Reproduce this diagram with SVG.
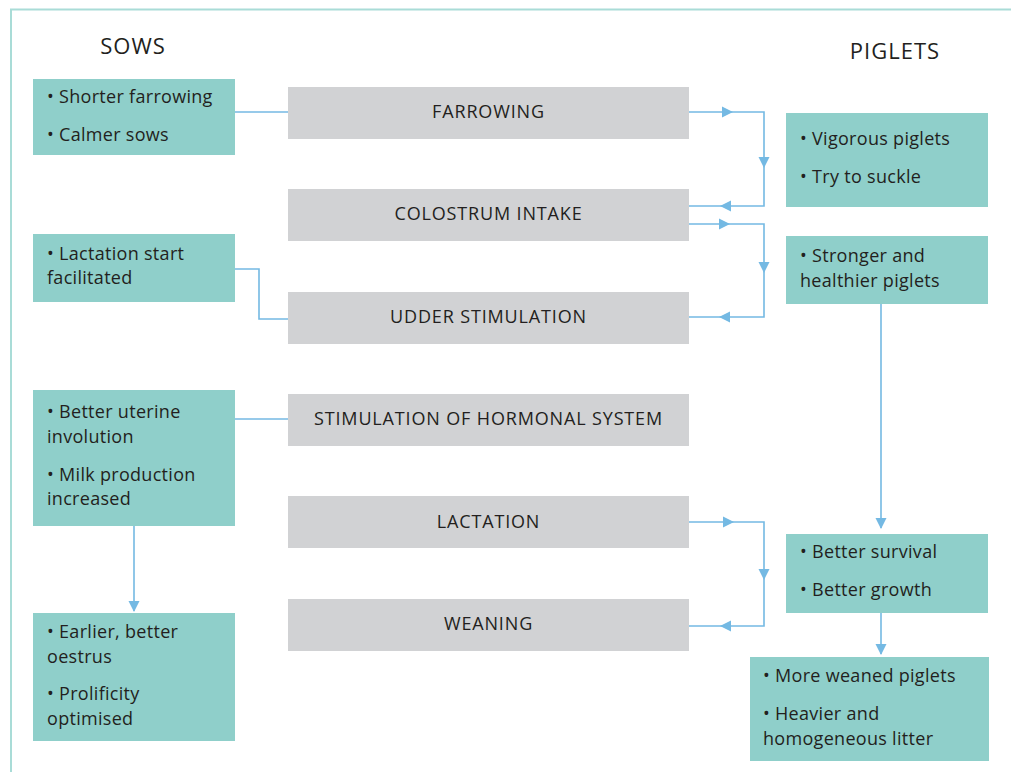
<svg xmlns="http://www.w3.org/2000/svg" width="1011" height="772" viewBox="0 0 1011 772">
<defs>
<style>
.frame{fill:none;stroke:#a9dcd7;stroke-width:2}
.teal{fill:#8fcfca}
.gray{fill:#d1d2d4}
.t{font-family:"Open Sans","Liberation Sans",sans-serif;font-size:18px;letter-spacing:0.3px;fill:#231f20}
.c{text-anchor:middle;letter-spacing:0.85px}
.h{font-family:"Open Sans","Liberation Sans",sans-serif;font-size:22px;letter-spacing:1px;fill:#231f20;text-anchor:middle}
.ln{fill:none;stroke:#74b9e3;stroke-width:1.6}
.ah{fill:#74b9e3}
</style>
</defs>
<rect width="1011" height="772" fill="#ffffff"/>
<path class="frame" d="M11,772 V9.5 H1011"/>
<text class="h" x="133" y="54">SOWS</text>
<text class="h" x="895" y="59">PIGLETS</text>

<g id="connectors">
<path class="ln" d="M235,112 H288"/>
<path class="ln" d="M235,269 H259 V319 H288"/>
<path class="ln" d="M235,419 H288"/>
<path class="ln" d="M689,112 H764 V206 H689"/>
<path class="ln" d="M689,224 H764 V317 H689"/>
<path class="ln" d="M689,522 H764 V626 H689"/>
<path class="ln" d="M881,304 V528"/>
<path class="ln" d="M881,613 V654"/>
<path class="ln" d="M134,526 V611"/>
<polygon class="ah" points="733,112 722,106.5 722,117.5"/>
<polygon class="ah" points="764,168 758.5,157 769.5,157"/>
<polygon class="ah" points="720,206 731,200.5 731,211.5"/>
<polygon class="ah" points="730,224 719,218.5 719,229.5"/>
<polygon class="ah" points="764,273 758.5,262 769.5,262"/>
<polygon class="ah" points="719,317 730,311.5 730,322.5"/>
<polygon class="ah" points="734,522 723,516.5 723,527.5"/>
<polygon class="ah" points="764,580 758.5,569 769.5,569"/>
<polygon class="ah" points="720,626 731,620.5 731,631.5"/>
<polygon class="ah" points="881,529 875.5,518 886.5,518"/>
<polygon class="ah" points="881,655 875.5,644 886.5,644"/>
<polygon class="ah" points="134,612 128.5,601 139.5,601"/>
</g>

<g id="sow1"><rect class="teal" x="33" y="79" width="202" height="76"/>
<text class="t" x="47" y="103">• Shorter farrowing</text>
<text class="t" x="47" y="141">• Calmer sows</text></g>
<g id="sow2"><rect class="teal" x="33" y="234" width="202" height="68"/>
<text class="t" x="47" y="260">• Lactation start</text>
<text class="t" x="47" y="284">facilitated</text></g>
<g id="sow3"><rect class="teal" x="33" y="390" width="202" height="136"/>
<text class="t" x="47" y="418">• Better uterine</text>
<text class="t" x="47" y="443">involution</text>
<text class="t" x="47" y="481">• Milk production</text>
<text class="t" x="47" y="505">increased</text></g>
<g id="sow4"><rect class="teal" x="33" y="613" width="202" height="128"/>
<text class="t" x="47" y="638">• Earlier, better</text>
<text class="t" x="47" y="663">oestrus</text>
<text class="t" x="47" y="700">• Prolificity</text>
<text class="t" x="47" y="725">optimised</text></g>

<g id="farrowing"><rect class="gray" x="288" y="87" width="401" height="52"/>
<text class="t c" x="488.5" y="118">FARROWING</text></g>
<g id="colostrum"><rect class="gray" x="288" y="189" width="401" height="52"/>
<text class="t c" x="488.5" y="220">COLOSTRUM INTAKE</text></g>
<g id="udder"><rect class="gray" x="288" y="292" width="401" height="52"/>
<text class="t c" x="488.5" y="323">UDDER STIMULATION</text></g>
<g id="hormonal"><rect class="gray" x="288" y="394" width="401" height="52"/>
<text class="t c" x="488.5" y="425">STIMULATION OF HORMONAL SYSTEM</text></g>
<g id="lactation"><rect class="gray" x="288" y="496" width="401" height="52"/>
<text class="t c" x="488.5" y="528">LACTATION</text></g>
<g id="weaning"><rect class="gray" x="288" y="599" width="401" height="52"/>
<text class="t c" x="488.5" y="630">WEANING</text></g>

<g id="pig1"><rect class="teal" x="786" y="113" width="202" height="94"/>
<text class="t" x="800" y="145">• Vigorous piglets</text>
<text class="t" x="800" y="183">• Try to suckle</text></g>
<g id="pig2"><rect class="teal" x="786" y="236" width="202" height="68"/>
<text class="t" x="800" y="262">• Stronger and</text>
<text class="t" x="800" y="287">healthier piglets</text></g>
<g id="pig3"><rect class="teal" x="786" y="534" width="202" height="79"/>
<text class="t" x="800" y="558">• Better survival</text>
<text class="t" x="800" y="596">• Better growth</text></g>
<g id="pig4"><rect class="teal" x="750" y="657" width="239" height="104"/>
<text class="t" x="763" y="682">• More weaned piglets</text>
<text class="t" x="763" y="720">• Heavier and</text>
<text class="t" x="763" y="745">homogeneous litter</text></g>
</svg>
